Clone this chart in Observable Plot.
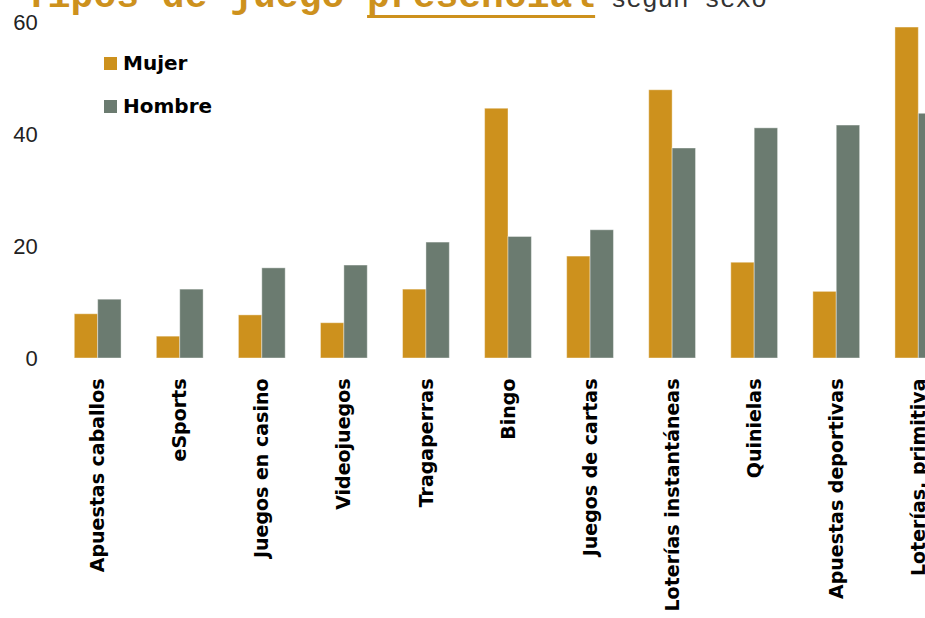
<!DOCTYPE html>
<html lang="es">
<head>
<meta charset="utf-8">
<script src="https://cdn.jsdelivr.net/npm/d3@7"></script>
<script src="https://cdn.jsdelivr.net/npm/@observablehq/plot@0.6"></script>
<style>
  html, body { margin: 0; padding: 0; background: #fff; overflow: hidden; }
  #wrap { position: relative; width: 925px; height: 618px; overflow: hidden; }
  #chart { position: absolute; left: 0; top: 0; }
  #title {
    position: absolute; left: 25px; top: -22px; white-space: nowrap;
    font-family: "Liberation Mono", "DejaVu Sans Mono", monospace;
    font-size: 38px; line-height: 38px; font-weight: bold; color: #CD911D;
  }
  #title .u { text-decoration: underline; text-decoration-thickness: 3px; text-underline-offset: 8px; text-decoration-color: #CD911D; }
  #title .sub { font-size: 26px; font-weight: normal; color: #333; }
  .leg { position: absolute; left: 104px; height: 20px; display: flex; align-items: center; gap: 6px;
    font-family: "DejaVu Sans", sans-serif; font-weight: bold; font-size: 20px; line-height: 20px; color: #000; }
  .leg .sw { width: 13px; height: 13px; display: inline-block; }
</style>
</head>
<body>
<div id="wrap">
  <div id="chart"></div>
  <div id="title">Tipos de juego <span class="u">presencial</span><span class="sub"> según sexo</span></div>
  <div id="legend"></div>
</div>
<script>
const categorias = ["Apuestas caballos", "eSports", "Juegos en casino", "Videojuegos", "Tragaperras", "Bingo", "Juegos de cartas", "Loterías instantáneas", "Quinielas", "Apuestas deportivas", "Loterías, primitiva"];
const mujer  = [7.9, 3.9, 7.7, 6.3, 12.3, 44.6, 18.2, 47.9, 17.1, 11.9, 59.1];
const hombre = [10.5, 12.3, 16.1, 16.6, 20.7, 21.7, 22.9, 37.5, 41.1, 41.6, 43.7];
const series = ["Mujer", "Hombre"];
const colores = ["#CD911D", "#6B7B70"];
const yTicks = [0, 20, 40, 60];

const data = categorias.flatMap((c, i) => [
  {cat: c, sexo: series[0], valor: mujer[i]},
  {cat: c, sexo: series[1], valor: hombre[i]}
]);

const chart = Plot.plot({
  width: 990,
  height: 618,
  marginTop: 22,
  marginBottom: 260,
  marginLeft: 39,
  marginRight: 13,
  style: {maxWidth: "none", background: "transparent", overflow: "visible"},
  fx: {domain: categorias, paddingInner: 0.43, paddingOuter: 0.43, round: false, label: null},
  x: {domain: series, padding: 0, round: false, axis: null},
  y: {domain: [0, 60]},
  color: {domain: series, range: colores},
  marks: [
    Plot.barY(data, {fx: "cat", x: "sexo", y: "valor", fill: "sexo", stroke: "white", strokeOpacity: 0.4, strokeWidth: 1}),
    Plot.axisY({ticks: yTicks, tickSize: 0, tickPadding: 37, fontSize: 22, fontFamily: "Liberation Sans Narrow, Liberation Sans, sans-serif", fill: "#222", label: null}),
    Plot.axisFx({anchor: "bottom", tickRotate: -90, tickSize: 0, tickPadding: 20, fontSize: 19, fontWeight: "bold", fontFamily: "DejaVu Sans, sans-serif", fill: "#000", label: null})
  ]
});
document.getElementById("chart").appendChild(chart);

const legend = document.getElementById("legend");
const legTops = [53, 96];
series.forEach((s, i) => {
  const d = document.createElement("div");
  d.className = "leg";
  d.style.top = legTops[i] + "px";
  const sw = document.createElement("span");
  sw.className = "sw";
  sw.style.background = colores[i];
  const t = document.createElement("span");
  t.textContent = s;
  d.appendChild(sw); d.appendChild(t);
  legend.appendChild(d);
});
</script>
</body>
</html>
